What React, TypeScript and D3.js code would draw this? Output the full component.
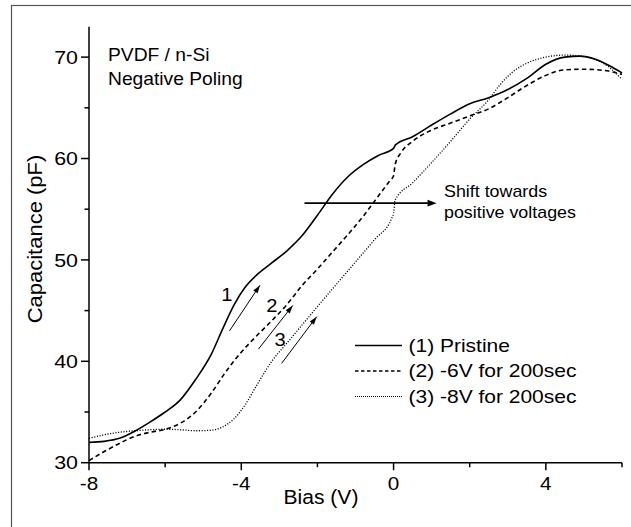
import React from "react";
import * as d3 from "d3";

// ---- data ----
const pristineBias = [-8, -7.6, -7.2, -6.8, -6.4, -6.0, -5.6, -5.2, -4.8, -4.5, -4.2, -3.9, -3.6, -3.2, -2.8, -2.4, -2.0, -1.6, -1.2, -0.8, -0.4, 0, 0.05, 0.5, 1.0, 1.5, 2.0, 2.5, 3.0, 3.5, 4.0, 4.5, 4.9, 5.3, 5.7, 6.0];
const pristineCap = [32.0, 32.1, 32.4, 33.1, 34.0, 35.0, 36.2, 38.2, 40.6, 43.1, 45.5, 47.3, 48.5, 49.7, 50.9, 52.4, 54.4, 56.5, 58.2, 59.4, 60.3, 61.0, 61.35, 62.15, 63.3, 64.4, 65.4, 66.0, 66.8, 67.9, 69.3, 70.0, 70.1, 69.8, 69.1, 68.45];

const neg6Bias = [-8, -7.6, -7.2, -6.8, -6.4, -6.0, -5.6, -5.2, -4.8, -4.4, -4.0, -3.6, -3.2, -2.8, -2.4, -2.0, -1.6, -1.2, -0.8, -0.4, -0.1, 0, 0.04, 0.2, 0.5, 1.0, 1.5, 2.0, 2.5, 3.0, 3.5, 4.0, 4.5, 5.0, 5.5, 6.0];
const neg6Cap = [30.2, 31.1, 31.9, 32.6, 33.0, 33.3, 33.9, 35.0, 36.8, 39.0, 40.9, 42.5, 44.0, 45.6, 47.5, 49.1, 50.8, 52.5, 54.3, 56.3, 57.8, 58.3, 59.4, 60.6, 61.7, 62.8, 63.5, 64.2, 64.9, 66.0, 67.2, 68.2, 68.75, 68.8, 68.7, 68.3];

const neg8Bias = [-8, -7.6, -7.2, -6.8, -6.4, -6.0, -5.6, -5.2, -4.8, -4.5, -4.2, -3.9, -3.6, -3.2, -2.8, -2.4, -2.0, -1.5, -1.0, -0.5, -0.05, 0, 0.04, 0.5, 1.0, 1.5, 2.0, 2.5, 2.8, 3.15, 3.5, 4.0, 4.5, 4.9, 5.4, 5.7, 6.0];
const neg8Cap = [32.4, 32.75, 33.0, 33.15, 33.25, 33.3, 33.25, 33.15, 33.2, 33.5, 34.3, 35.7, 37.6, 40.0, 41.8, 43.6, 45.4, 47.6, 49.8, 52.0, 54.1, 54.6, 55.9, 57.6, 59.6, 61.7, 63.9, 65.8, 67.3, 68.6, 69.4, 70.0, 70.2, 70.1, 69.6, 68.9, 67.8];

const seriesNames = ["(1) Pristine", "(2) -6V for 200sec", "(3) -8V for 200sec"];
const xMajorTicks = [-8, -4, 0, 4];
const xMinorTicks = [-6, -2, 2, 6];
const yMajorTicks = [30, 40, 50, 60, 70];
const yMinorTicks = [35, 45, 55, 65];

// sweep arrows: [bias0, cap0, bias1, cap1], with labels
const sweepArrows = [
  [-4.31, 43.0, -3.51, 47.5],
  [-3.55, 41.2, -2.65, 45.5],
  [-2.94, 39.8, -2.02, 44.4],
];
const sweepLabels = ["1", "2", "3"];
const sweepLabelPos = [
  [-4.38, 45.98],
  [-3.2, 44.89],
  [-2.98, 41.5],
];
const shiftArrow = [-2.34, 1.13, 55.6];

const FONT = "'Liberation Sans', Arial, Helvetica, sans-serif";

function T({ x, y, fs, sx = 1, anchor = "start", rotate = 0, children }: any) {
  return (
    <text
      transform={`translate(${x},${y}) rotate(${rotate}) scale(${sx},1)`}
      fontSize={fs}
      textAnchor={anchor}
      fontFamily={FONT}
      fill="#000"
    >
      {children}
    </text>
  );
}

function arrowHead(x0: number, y0: number, x1: number, y1: number, len: number, half: number) {
  const a = Math.atan2(y1 - y0, x1 - x0);
  const bx = x1 - len * Math.cos(a);
  const by = y1 - len * Math.sin(a);
  const px = -Math.sin(a) * half;
  const py = Math.cos(a) * half;
  return `M${x1},${y1}L${bx + px},${by + py}L${bx - px},${by - py}Z`;
}

export default function App() {
  const x = d3.scaleLinear().domain([-8, 6]).range([89, 622]);
  const y = d3.scaleLinear().domain([30, 73]).range([462.7, 26.7]);
  const line = d3
    .line<[number, number]>()
    .x((d) => x(d[0]))
    .y((d) => y(d[1]))
    .curve(d3.curveMonotoneX);

  const s1 = pristineBias.map((b, i) => [b, pristineCap[i]] as [number, number]);
  const s2 = neg6Bias.map((b, i) => [b, neg6Cap[i]] as [number, number]);
  const s3 = neg8Bias.map((b, i) => [b, neg8Cap[i]] as [number, number]);

  const styles = [
    { dash: undefined, w: 1.6 },
    { dash: "4.5 3.2", w: 1.6 },
    { dash: "1.1 1.6", w: 1.3 },
  ];
  const data = [s1, s2, s3];

  const x0 = x(-8);
  const yBase = y(30);
  const yTop = y(73);
  const xEnd = x(6);

  const sx0 = x(shiftArrow[0]);
  const sx1 = x(shiftArrow[1]);
  const sy = y(shiftArrow[2]);

  return (
    <svg
      width={631}
      height={527}
      style={{ position: "absolute", left: 0, top: 0, display: "block", background: "#fff" }}
    >
      <rect x={0} y={0} width={631} height={527} fill="#fff" />
      <rect x={11.5} y={5.5} width={700} height={600} fill="none" stroke="#555" strokeWidth={1.2} />

      {/* curves */}
      {data.map((d, i) => (
        <path
          key={i}
          d={line(d) || ""}
          fill="none"
          stroke="#000"
          strokeWidth={styles[i].w}
          strokeDasharray={styles[i].dash}
        />
      ))}

      {/* axes */}
      <line x1={x0} x2={x0} y1={yTop} y2={yBase} stroke="#000" strokeWidth={1.5} />
      <line x1={x0} x2={xEnd} y1={yBase} y2={yBase} stroke="#000" strokeWidth={1.5} />
      {xMajorTicks.map((t) => (
        <g key={"xm" + t}>
          <line x1={x(t)} x2={x(t)} y1={yBase} y2={yBase + 7.5} stroke="#000" strokeWidth={1.5} />
          <T x={x(t)} y={490} fs={18} sx={1.15} anchor="middle">
            {String(t)}
          </T>
        </g>
      ))}
      {xMinorTicks.map((t) => (
        <line key={"xn" + t} x1={x(t)} x2={x(t)} y1={yBase} y2={yBase + 4.5} stroke="#000" strokeWidth={1.5} />
      ))}
      {yMajorTicks.map((t) => (
        <g key={"ym" + t}>
          <line x1={x0 - 8} x2={x0} y1={y(t)} y2={y(t)} stroke="#000" strokeWidth={1.5} />
          <T x={78} y={y(t) + 6.6} fs={18.3} sx={1.17} anchor="end">
            {String(t)}
          </T>
        </g>
      ))}
      {yMinorTicks.map((t) => (
        <line key={"yn" + t} x1={x0 - 4.5} x2={x0} y1={y(t)} y2={y(t)} stroke="#000" strokeWidth={1.5} />
      ))}

      {/* axis titles */}
      <T x={321} y={504} fs={19.5} sx={1.08} anchor="middle">
        Bias (V)
      </T>
      <T x={41.5} y={239} fs={20} sx={1.1} anchor="middle" rotate={-90}>
        Capacitance (pF)
      </T>

      {/* sample label */}
      <T x={108} y={61} fs={17.5} sx={1.1}>
        PVDF / n-Si
      </T>
      <T x={108} y={85} fs={17.5} sx={1.1}>
        Negative Poling
      </T>

      {/* shift arrow */}
      <line x1={sx0} x2={sx1 - 6} y1={sy} y2={sy} stroke="#000" strokeWidth={1.6} />
      <path d={arrowHead(sx0, sy, sx1, sy, 9, 3.3)} fill="#000" />
      <T x={444} y={196.7} fs={17} sx={1.05}>
        Shift towards
      </T>
      <T x={444} y={218} fs={17} sx={1.05}>
        positive voltages
      </T>

      {/* sweep arrows */}
      {sweepArrows.map((a, i) => {
        const ax0 = x(a[0]);
        const ay0 = y(a[1]);
        const ax1 = x(a[2]);
        const ay1 = y(a[3]);
        return (
          <g key={"sa" + i}>
            <line x1={ax0} y1={ay0} x2={ax1} y2={ay1} stroke="#000" strokeWidth={1} />
            <path d={arrowHead(ax0, ay0, ax1, ay1, 8, 2.6)} fill="#000" />
            <T x={x(sweepLabelPos[i][0])} y={y(sweepLabelPos[i][1])} fs={17.5} sx={1.15} anchor="middle">
              {sweepLabels[i]}
            </T>
          </g>
        );
      })}

      {/* legend */}
      {seriesNames.map((name, i) => {
        const cy = 345.5 + i * 25.5;
        return (
          <g key={"lg" + i}>
            <line
              x1={355}
              x2={402}
              y1={cy}
              y2={cy}
              stroke="#000"
              strokeWidth={i === 2 ? 1.1 : 1.4}
              strokeDasharray={i === 0 ? undefined : i === 1 ? "3.5 2.5" : "1 1"}
            />
            <T x={408.5} y={cy + 6.2} fs={17.5} sx={1.2}>
              {name}
            </T>
          </g>
        );
      })}
    </svg>
  );
}
